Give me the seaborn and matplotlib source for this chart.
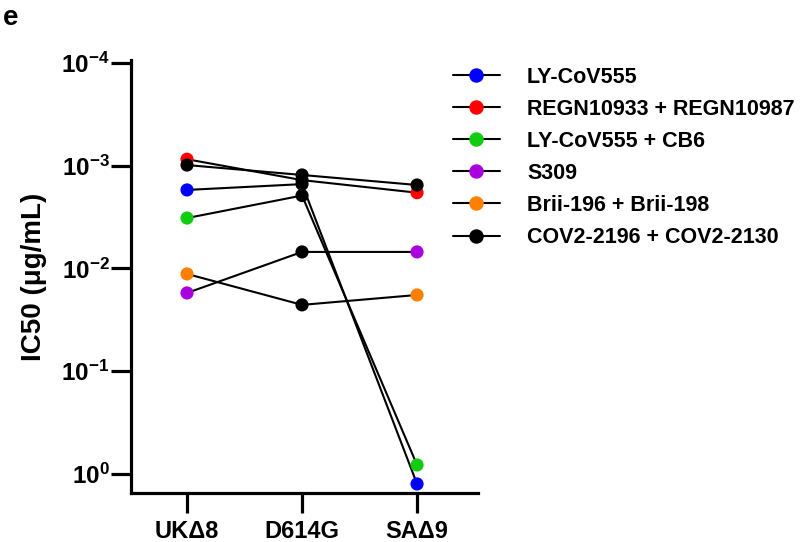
import numpy as np
import pandas as pd
import matplotlib
matplotlib.use('Agg')
import matplotlib.pyplot as plt
import seaborn as sns
from matplotlib.lines import Line2D

# Data (IC50 in ug/mL)
variants = ['UKΔ8', 'D614G', 'SAΔ9']
antibodies = ['LY-CoV555', 'REGN10933 + REGN10987', 'LY-CoV555 + CB6',
              'S309', 'Brii-196 + Brii-198', 'COV2-2196 + COV2-2130']
colors = ['#0000FF', '#FF0000', '#11CC11', '#AA00DD', '#FF8000', '#000000']

ic50_uk = [1.72e-3, 8.65e-4, 3.23e-3, 1.73e-2, 1.13e-2, 9.85e-4]
ic50_d614g = [1.51e-3, 1.38e-3, 1.95e-3, 6.9e-3, 2.26e-2, 1.23e-3]
ic50_sa = [1.25, 1.83e-3, 0.817, 6.9e-3, 1.81e-2, 1.54e-3]

ytick_vals = [1e-4, 1e-3, 1e-2, 1e-1, 1e0]
ytick_labels = [r'$\mathbf{10^{-4}}$', r'$\mathbf{10^{-3}}$', r'$\mathbf{10^{-2}}$',
                r'$\mathbf{10^{-1}}$', r'$\mathbf{10^{0}}$']

# long-form table
rows = []
for vals, var in zip([ic50_uk, ic50_d614g, ic50_sa], variants):
    for ab, v in zip(antibodies, vals):
        rows.append({'variant': var, 'pos': variants.index(var), 'antibody': ab, 'ic50': v})
df = pd.DataFrame(rows)

sns.set_style('ticks')
plt.rcParams['font.family'] = ['Liberation Sans', 'DejaVu Sans']
plt.rcParams['mathtext.fontset'] = 'custom'
plt.rcParams['mathtext.bf'] = 'Liberation Sans:bold'
plt.rcParams['mathtext.rm'] = 'Liberation Sans'
for key in ['text.color', 'axes.labelcolor', 'xtick.color', 'ytick.color', 'axes.edgecolor']:
    plt.rcParams[key] = 'black'

fig = plt.figure(figsize=(8, 5.42), dpi=100)
ax = fig.add_axes([0.16375, 0.0904, 0.43375, 0.7989])

# connecting lines (all black)
sns.lineplot(data=df, x='pos', y='ic50', units='antibody', estimator=None,
             color='black', lw=1.5, sort=False, legend=False, ax=ax, zorder=2)

# coloured points at the two outer variants, black at D614G
palette = dict(zip(antibodies, colors))
outer = df[df['variant'] != 'D614G']
mid = df[df['variant'] == 'D614G']
sns.scatterplot(data=outer, x='pos', y='ic50', hue='antibody', palette=palette,
                s=90, edgecolor='none', legend=False, ax=ax, zorder=3)
sns.scatterplot(data=mid, x='pos', y='ic50', color='black',
                s=90, edgecolor='none', legend=False, ax=ax, zorder=3)

ax.set_yscale('log')
ax.set_ylim(10 ** 0.185, 10 ** -4.029)
ax.set_xlim(-0.487, 2.53)
ax.set_yticks(ytick_vals)
ax.set_yticklabels(ytick_labels)
ax.minorticks_off()
ax.set_xticks(range(len(variants)))
ax.set_xticklabels(variants, fontweight='bold')

for s in ['top', 'right']:
    ax.spines[s].set_visible(False)
for s in ['left', 'bottom']:
    ax.spines[s].set_linewidth(2.3)
    ax.spines[s].set_color('black')

ax.tick_params(axis='y', left=True, length=14.5, width=2.3, pad=1, labelsize=17.5, color='black')
ax.tick_params(axis='x', bottom=True, length=14.5, width=2.3, pad=5, labelsize=17, color='black')
ax.tick_params(axis='y', which='minor', length=0)

ax.set_xlabel('')
ax.set_ylabel('IC50 (μg/mL)', fontsize=20, fontweight='bold')
ax.yaxis.set_label_coords(-0.242, 0.5)

handles = [Line2D([0], [0], color='black', lw=1.5, marker='o', markersize=9.4,
                  markerfacecolor=c, markeredgecolor=c) for c in colors]
fig.legend(handles, antibodies, loc='upper left', bbox_to_anchor=(0.566, 0.877),
           frameon=False, borderpad=0, borderaxespad=0, handlelength=2.2,
           handletextpad=1.25, labelspacing=0.515,
           prop={'family': 'Liberation Sans', 'weight': 'bold', 'size': 15.5})

fig.text(0.004, 0.99, 'e', fontsize=20, fontweight='bold', va='top', ha='left')

fig.savefig('out.png', dpi=100)
